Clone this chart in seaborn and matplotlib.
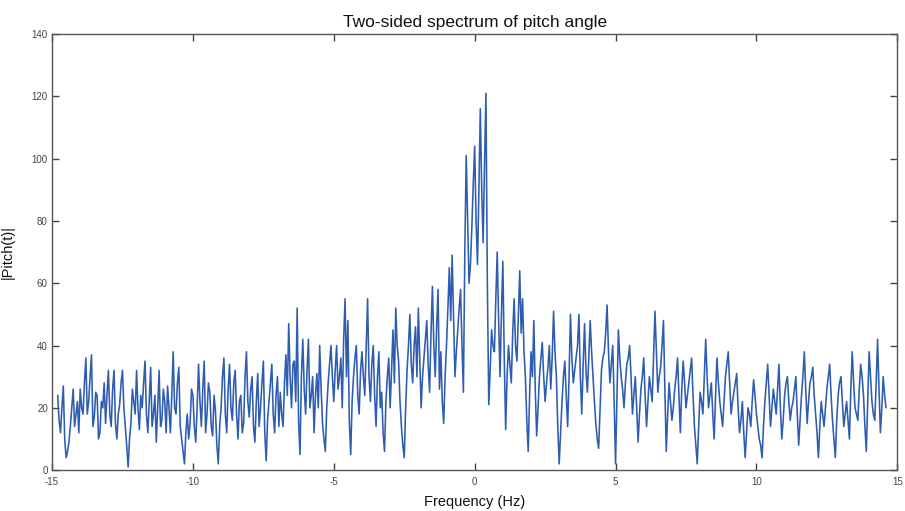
import matplotlib
matplotlib.use('Agg')
import matplotlib.pyplot as plt
import numpy as np
import pandas as pd
import seaborn as sns

# |Pitch(f)|, 0.1 Hz apart from -14.8 Hz to 14.6 Hz
pitch_mag = [
    24, 12, 27, 4, 9, 20, 14, 22, 26, 18,
    36, 22, 37, 17, 24, 12, 20, 15, 32, 14,
    32, 10, 21, 32, 14, 1, 15, 22, 32, 13,
    20, 35, 12, 33, 18, 9, 32, 16, 22, 27,
    12, 38, 18, 33, 10, 2, 18, 15, 24, 9,
    34, 14, 35, 18, 25, 11, 19, 2, 20, 36,
    12, 34, 16, 32, 10, 24, 15, 38, 17, 30,
    9, 31, 20, 35, 3, 22, 34, 12, 30, 25,
    14, 37, 47, 20, 35, 52, 5, 42, 18, 42,
    24, 12, 31, 40, 15, 6, 28, 40, 22, 40,
    30, 20, 55, 48, 5, 30, 40, 18, 38, 24,
    55, 22, 40, 14, 38, 25, 6, 30, 20, 45,
    52, 35, 14, 4, 32, 50, 28, 46, 52, 20,
    36, 48, 25, 59, 30, 58, 38, 15, 40, 65,
    69, 30, 45, 58, 25, 101, 60, 78, 104, 66,
    116, 73, 121, 21, 45, 38, 70, 30, 67, 13,
    40, 28, 55, 35, 64, 55, 30, 6, 38, 48,
    11, 30, 41, 22, 33, 26, 51, 30, 2, 22,
    35, 14, 50, 28, 36, 50, 18, 47, 25, 48,
    30, 15, 7, 32, 38, 53, 28, 40, 2, 45,
    30, 20, 34, 40, 18, 30, 9, 26, 36, 14,
    30, 22, 51, 25, 33, 48, 6, 28, 16, 26,
    36, 12, 35, 20, 28, 36, 14, 2, 25, 18,
    42, 20, 28, 10, 36, 22, 14, 30, 38, 18,
    25, 31, 12, 22, 4, 20, 14, 29, 18, 10,
    4, 22, 34, 14, 26, 18, 34, 10, 24, 30,
    16, 22, 30, 8, 24, 38, 15, 28, 33, 18,
    4, 22, 14, 26, 34, 16, 4, 24, 30, 14,
    22, 10, 38, 20, 16, 34, 24, 6, 38, 22,
    16, 42, 12, 30, 20,
]

# in-between bins (0.05 Hz after each value above)
pitch_mid = [
    16, 20, 10, 6, 14, 26, 18, 12, 20, 28,
    18, 30, 14, 25, 10, 22, 28, 24, 18, 26,
    15, 18, 28, 20, 8, 10, 26, 18, 20, 24,
    28, 18, 22, 14, 24, 20, 14, 26, 12, 20,
    24, 20, 28, 14, 6, 12, 10, 26, 14, 20,
    22, 26, 12, 28, 14, 24, 8, 14, 30, 18,
    26, 20, 28, 18, 22, 12, 30, 22, 26, 14,
    22, 14, 28, 12, 16, 28, 18, 24, 14, 18,
    28, 24, 30, 34, 22, 16, 30, 26, 32, 20,
    30, 24, 20, 26, 10, 20, 34, 30, 32, 26,
    36, 42, 30, 16, 22, 36, 24, 32, 30, 40,
    30, 34, 24, 30, 20, 12, 22, 36, 32, 28,
    40, 22, 8, 20, 40, 34, 40, 30, 36, 30,
    42, 34, 44, 40, 46, 26, 22, 30, 52, 48,
    50, 38, 52, 40, 70, 80, 66, 92, 80, 90,
    90, 98, 60, 32, 40, 55, 48, 50, 36, 30,
    34, 44, 40, 50, 44, 38, 16, 24, 30, 26,
    20, 36, 30, 28, 40, 36, 38, 14, 12, 30,
    24, 30, 36, 32, 40, 30, 34, 32, 36, 38,
    22, 10, 20, 36, 44, 38, 34, 22, 24, 36,
    26, 28, 36, 30, 24, 20, 18, 30, 24, 22,
    26, 36, 38, 30, 40, 26, 18, 22, 20, 30,
    24, 26, 28, 24, 32, 24, 8, 14, 22, 30,
    30, 24, 18, 24, 28, 18, 22, 34, 28, 22,
    28, 20, 16, 12, 12, 18, 22, 24, 14, 8,
    14, 28, 24, 20, 22, 26, 20, 16, 28, 22,
    20, 26, 18, 16, 30, 26, 22, 30, 24, 12,
    14, 18, 20, 30, 24, 10, 16, 28, 22, 18,
    16, 26, 28, 18, 26, 30, 14, 22, 30, 18,
    28, 26, 20, 24,
]

x_ticks = [-15, -10, -5, 0, 5, 10, 15]
y_ticks = [0, 20, 40, 60, 80, 100, 120, 140]

mag = np.empty(len(pitch_mag) + len(pitch_mid))
mag[0::2] = pitch_mag
mag[1::2] = pitch_mid
freq = np.linspace(-14.8, 14.6, len(mag))
df = pd.DataFrame({'freq': freq, 'mag': mag})

sns.set_theme(style='white')
plt.rcParams['font.family'] = ['Liberation Sans', 'DejaVu Sans']
plt.rcParams['axes.unicode_minus'] = False

fig = plt.figure(figsize=(9.05, 5.11), dpi=100)
ax = fig.add_axes([0.0575, 0.080, 0.934, 0.8535])

sns.lineplot(data=df, x='freq', y='mag', ax=ax, color='#2d5cb0', linewidth=1.15,
             estimator=None, sort=True)

ax.set_xlim(-15, 15)
ax.set_ylim(0, 140)
ax.set_xticks(x_ticks)
ax.set_yticks(y_ticks)
ax.tick_params(direction='in', length=5, width=1, colors='#444444', labelsize=7,
               top=True, right=True, bottom=True, left=True, pad=3)
ax.tick_params(axis='x', pad=5)
for sp in ax.spines.values():
    sp.set_color('#555555')
    sp.set_linewidth(1)

ax.set_title('Two-sided spectrum of pitch angle', fontsize=12.5, color='#111111', pad=5)
ax.set_xlabel('Frequency (Hz)', fontsize=10.5, color='#111111', labelpad=6)
ax.set_ylabel('|Pitch(t)|', fontsize=10.5, color='#111111', labelpad=12)

fig.savefig('out.png', dpi=100)
